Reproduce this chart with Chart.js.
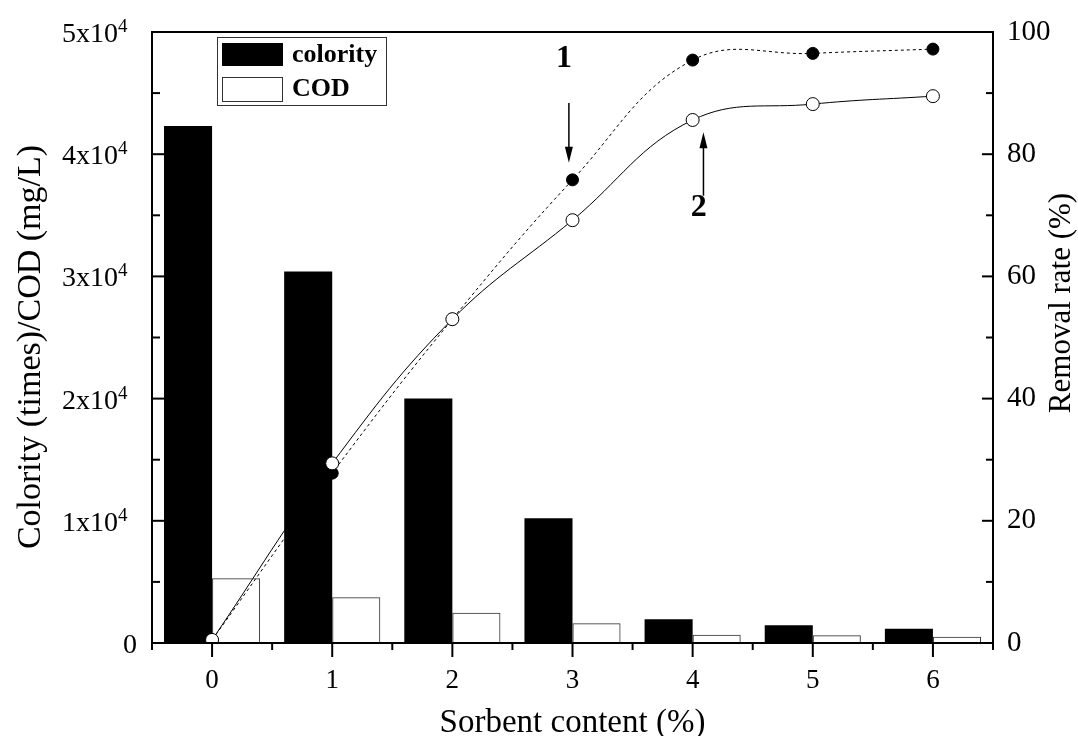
<!DOCTYPE html>
<html>
<head>
<meta charset="utf-8">
<script src="https://cdn.jsdelivr.net/npm/chart.js@4.4.1/dist/chart.umd.min.js"></script>
<style>
  body { margin: 0; background: #fff; }
  #wrap { width: 1078px; height: 736px; }
</style>
</head>
<body>
<div id="wrap"><canvas id="grafico" width="1078" height="736"></canvas></div>
<script>
// datos
const sorbent = ["0", "1", "2", "3", "4", "5", "6"];
const colority = [42300, 30400, 20000, 10200, 1940, 1450, 1170];
const cod = [5300, 3740, 2480, 1610, 680, 630, 520];
const colorityRemoval = [0.5, 27.8, 53.0, 75.8, 95.4, 96.5, 97.2];
const codRemoval = [0.5, 29.4, 53.0, 69.2, 85.6, 88.2, 89.5];
const leftTicks = [0, 10000, 20000, 30000, 40000, 50000];

const SERIF = '"Liberation Serif", "Times New Roman", serif';

function flecha(ctx, x, y0, y1) {
  // linea vertical con punta en y1
  const dir = y1 > y0 ? 1 : -1;
  ctx.beginPath();
  ctx.moveTo(x, y0);
  ctx.lineTo(x, y1 - dir * 14);
  ctx.stroke();
  ctx.beginPath();
  ctx.moveTo(x, y1);
  ctx.lineTo(x - 4, y1 - dir * 16);
  ctx.lineTo(x + 4, y1 - dir * 16);
  ctx.closePath();
  ctx.fill();
}

function xEn(xs, v) {
  const i = Math.floor(v);
  const a = xs.getPixelForValue(i);
  const b = xs.getPixelForValue(i + 1);
  return a + (b - a) * (v - i);
}

// ejes tipo Origin: caja, ticks hacia adentro, etiquetas con superindice
const ejes = {
  id: "ejes",
  afterDraw(chart) {
    const { ctx, chartArea: a, scales } = chart;
    const xs = scales.x, ys = scales.y, yr = scales.y1;
    ctx.save();
    ctx.strokeStyle = "#000";
    ctx.fillStyle = "#000";
    ctx.lineWidth = 2;
    ctx.strokeRect(a.left, a.top, a.right - a.left, a.bottom - a.top);
    ctx.beginPath();
    ctx.moveTo(a.left, a.bottom); ctx.lineTo(a.left, a.bottom + 7);
    ctx.moveTo(a.right, a.bottom); ctx.lineTo(a.right, a.bottom + 7);
    ctx.stroke();

    // eje izquierdo
    for (let v = 0; v <= 50000; v += 5000) {
      const y = ys.getPixelForValue(v);
      const len = v % 10000 === 0 ? 13 : 8;
      ctx.beginPath(); ctx.moveTo(a.left, y); ctx.lineTo(a.left + len, y); ctx.stroke();
    }
    // eje derecho
    for (let v = 0; v <= 100; v += 10) {
      const y = yr.getPixelForValue(v);
      const len = v % 20 === 0 ? 11 : 7;
      ctx.beginPath(); ctx.moveTo(a.right, y); ctx.lineTo(a.right - len, y); ctx.stroke();
    }
    // eje x
    sorbent.forEach((s, i) => {
      const x = xs.getPixelForValue(i);
      ctx.beginPath(); ctx.moveTo(x, a.bottom); ctx.lineTo(x, a.bottom + 14); ctx.stroke();
      if (i < sorbent.length - 1) {
        const xm = (x + xs.getPixelForValue(i + 1)) / 2;
        ctx.beginPath(); ctx.moveTo(xm, a.bottom); ctx.lineTo(xm, a.bottom + 7); ctx.stroke();
      }
    });

    // etiquetas izquierdas 5x10^4
    leftTicks.forEach(v => {
      const y = ys.getPixelForValue(v) + 10;
      ctx.textBaseline = "alphabetic";
      if (v === 0) {
        ctx.font = "28px " + SERIF;
        ctx.textAlign = "right";
        ctx.fillText("0", a.left - 15, y);
        return;
      }
      ctx.font = "28px " + SERIF;
      ctx.textAlign = "right";
      ctx.fillText((v / 10000) + "x10", a.left - 34, y);
      ctx.font = "19px " + SERIF;
      ctx.textAlign = "left";
      ctx.fillText("4", a.left - 34, y - 10);
    });

    // titulos
    ctx.font = "33px " + SERIF;
    ctx.textAlign = "center";
    ctx.textBaseline = "alphabetic";
    ctx.fillText("Sorbent content (%)", (a.left + a.right) / 2, 732);

    ctx.save();
    ctx.translate(40, 347);
    ctx.rotate(-Math.PI / 2);
    ctx.font = "34px " + SERIF;
    ctx.fillText("Colority (times)/COD (mg/L)", 0, 0);
    ctx.restore();

    ctx.save();
    ctx.translate(1070, 303);
    ctx.rotate(-Math.PI / 2);
    ctx.font = "31px " + SERIF;
    ctx.fillText("Removal rate (%)", 0, 0);
    ctx.restore();

    // leyenda
    const lx = a.left + 65, ly = a.top + 5;
    ctx.lineWidth = 1;
    ctx.strokeStyle = "#333";
    ctx.strokeRect(lx + 0.5, ly + 0.5, 169, 68);
    const ds = chart.data.datasets;
    [0, 1].forEach((k, j) => {
      const sy = ly + 6 + j * 34;
      if (k === 0) {
        ctx.fillStyle = ds[k].backgroundColor;
        ctx.fillRect(lx + 5, sy, 61, 23);
      } else {
        ctx.strokeRect(lx + 5.5, sy + 0.5, 60, 24);
      }
      ctx.fillStyle = "#000";
      ctx.font = "bold 26px " + SERIF;
      ctx.textAlign = "left";
      ctx.textBaseline = "middle";
      ctx.fillText(ds[k].label, lx + 75, sy + 12);
    });

    // anotaciones 1 y 2
    ctx.lineWidth = 1.5;
    ctx.strokeStyle = "#000";
    ctx.font = "bold 32px " + SERIF;
    ctx.textAlign = "center";
    ctx.textBaseline = "middle";
    ctx.fillText("1", xEn(xs, 2.93), yr.getPixelForValue(95.7));
    flecha(ctx, xEn(xs, 2.97), yr.getPixelForValue(88.4), yr.getPixelForValue(78.6));
    ctx.fillText("2", xEn(xs, 4.05), yr.getPixelForValue(71.2));
    flecha(ctx, xEn(xs, 4.09), yr.getPixelForValue(73.2), yr.getPixelForValue(83.6));
    ctx.restore();
  }
};

const ctx = document.getElementById("grafico").getContext("2d");
new Chart(ctx, {
  type: "bar",
  data: {
    labels: sorbent,
    datasets: [
      { label: "colority", data: colority, backgroundColor: "#000", borderWidth: 0,
        yAxisID: "y", order: 2, categoryPercentage: 0.8, barPercentage: 1 },
      { label: "COD", data: cod, backgroundColor: "rgba(0,0,0,0)", borderColor: "#333", borderWidth: 1,
        yAxisID: "y", order: 2, categoryPercentage: 0.8, barPercentage: 1 },
      { type: "line", label: "colority removal", data: colorityRemoval, yAxisID: "y1",
        borderColor: "#000", borderWidth: 1, borderDash: [3, 3], pointRadius: 0, pointHoverRadius: 0,
        tension: 0.4, fill: false, order: 3 },
      { type: "line", label: "COD removal", data: codRemoval, yAxisID: "y1",
        borderColor: "#000", borderWidth: 1, pointRadius: 0, pointHoverRadius: 0,
        tension: 0.4, fill: false, order: 3 },
      { type: "line", label: "colority pts", data: colorityRemoval, yAxisID: "y1", showLine: false,
        pointRadius: 6, pointBackgroundColor: "#000", pointBorderColor: "#000", order: 1 },
      { type: "line", label: "COD pts", data: codRemoval, yAxisID: "y1", showLine: false,
        pointRadius: 6.5, pointBackgroundColor: "#fff", pointBorderColor: "#000", pointBorderWidth: 1, order: 0 }
    ]
  },
  options: {
    responsive: false,
    animation: false,
    layout: { padding: { top: 32, left: 0, right: 0, bottom: 0 } },
    plugins: { legend: { display: false }, tooltip: { enabled: false } },
    scales: {
      x: {
        offset: true,
        grid: { display: false, drawTicks: false },
        border: { display: false },
        ticks: { color: "#000", font: { family: SERIF, size: 27 }, padding: 22 },
        afterFit: s => { s.height = 93; }
      },
      y: {
        position: "left", min: 0, max: 50000,
        ticks: { stepSize: 10000, display: false },
        grid: { display: false, drawTicks: false },
        border: { display: false },
        afterFit: s => { s.width = 152; }
      },
      y1: {
        position: "right", min: 0, max: 100,
        ticks: { stepSize: 20, color: "#000", font: { family: SERIF, size: 29 }, padding: 14 },
        grid: { display: false, drawTicks: false },
        border: { display: false },
        afterFit: s => { s.width = 85; }
      }
    }
  },
  plugins: [ejes]
});
</script>
</body>
</html>
